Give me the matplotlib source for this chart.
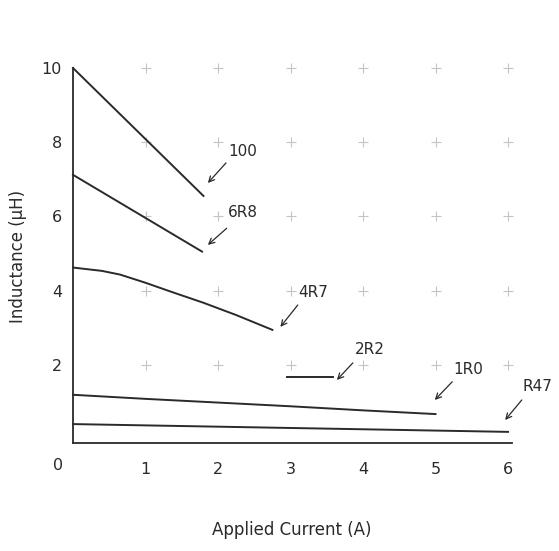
import matplotlib.pyplot as plt
import numpy as np

# Inductance vs applied current, one curve per part value
parts = ['100', '6R8', '4R7', '2R2', '1R0', 'R47']
curve_x = [
    [0.0, 1.8],
    [0.0, 1.78],
    [0.0, 0.4, 0.65, 1.0, 1.35, 1.8, 2.25, 2.75],
    [2.95, 3.58],
    [0.0, 1.0, 2.0, 3.0, 4.0, 5.0],
    [0.0, 2.0, 4.0, 6.0],
]
curve_y = [
    [10.0, 6.55],
    [7.12, 5.05],
    [4.62, 4.53, 4.43, 4.21, 3.97, 3.67, 3.34, 2.94],
    [1.67, 1.67],
    [1.19, 1.08, 0.98, 0.88, 0.77, 0.67],
    [0.40, 0.33, 0.26, 0.19],
]
x_ticks = [1, 2, 3, 4, 5, 6]
y_ticks = [2, 4, 6, 8, 10]

# label text position (left edge), arrow tail, arrow head (data units)
label_layout = [
    ((2.14, 7.74), (2.11, 7.44), (1.86, 6.9)),
    ((2.14, 6.1), (2.12, 5.68), (1.86, 5.23)),
    ((3.10, 3.94), (3.10, 3.61), (2.86, 3.02)),
    ((3.89, 2.4), (3.86, 2.05), (3.64, 1.59)),
    ((5.24, 1.86), (5.23, 1.54), (4.99, 1.05)),
    ((6.2, 1.40), (6.19, 1.05), (5.96, 0.51)),
]

ink = '#2a2a2a'

fig = plt.figure(figsize=(5.59, 5.51), dpi=100)
ax = fig.add_axes([73 / 559, 108 / 551, 472 / 559, 375 / 551])

# light plus marks at grid intersections
gx, gy = np.meshgrid(x_ticks, y_ticks)
ax.plot(gx.ravel(), gy.ravel(), '+', color='#c4c4c4', ms=7, mew=0.8,
        zorder=1, clip_on=False)

for xs, ys in zip(curve_x, curve_y):
    ax.plot(xs, ys, color=ink, lw=1.4, zorder=3, clip_on=False)

for name, (tpos, tail, head) in zip(parts, label_layout):
    ax.annotate('', xy=head, xytext=tail,
                arrowprops=dict(arrowstyle='->', color=ink, lw=0.9,
                                mutation_scale=10, shrinkA=0, shrinkB=0),
                annotation_clip=False)
    ax.text(tpos[0], tpos[1], name, fontsize=11, color=ink,
            ha='left', va='center', clip_on=False)

ax.set_xlim(0, 6.51)
ax.set_ylim(-0.11, 10)
ax.set_xticks(x_ticks)
ax.set_yticks(y_ticks)
ax.tick_params(length=0, labelsize=11.5, colors=ink)
ax.tick_params(axis='x', pad=14)
ax.tick_params(axis='y', pad=8)
ax.text(-0.2, -0.73, '0', fontsize=11.5, color=ink, ha='center', va='center',
        clip_on=False)

ax.spines['top'].set_visible(False)
ax.spines['right'].set_visible(False)
ax.spines['left'].set_bounds(-0.11, 10)
ax.spines['bottom'].set_bounds(0, 6.06)
for s in ('left', 'bottom'):
    ax.spines[s].set_linewidth(1.3)
    ax.spines[s].set_color(ink)

fig.text(18 / 559, 1 - 256 / 551, 'Inductance (μH)', rotation=90,
         fontsize=12, color=ink, ha='center', va='center')
fig.text(292 / 559, 1 - 530 / 551, 'Applied Current (A)',
         fontsize=12, color=ink, ha='center', va='center')

fig.savefig('out.png', dpi=100)
